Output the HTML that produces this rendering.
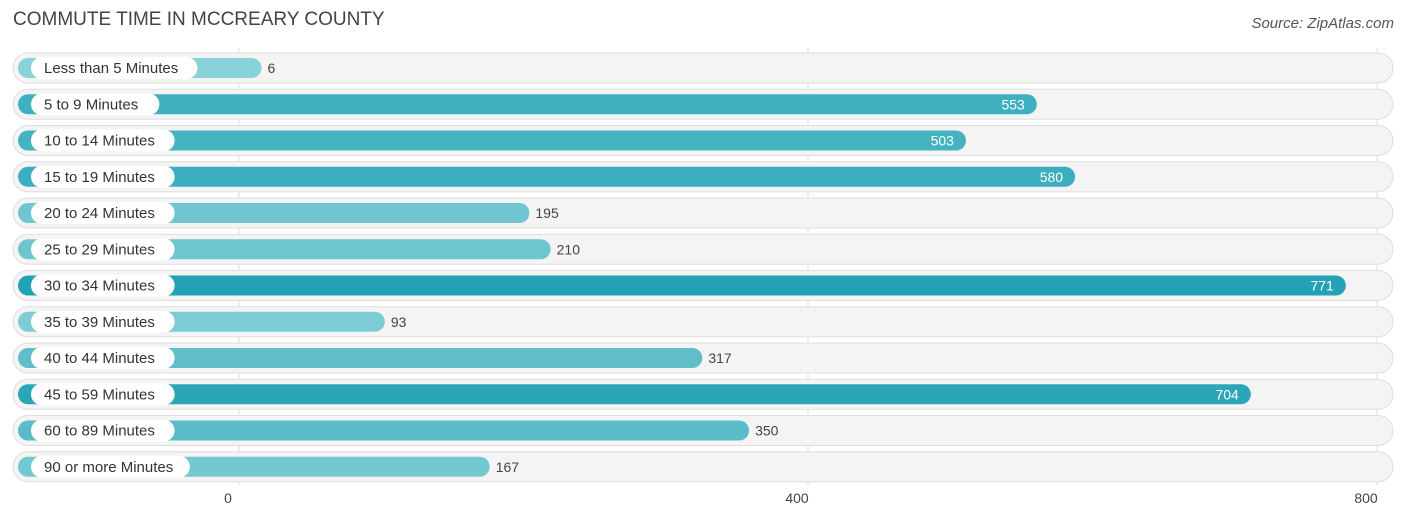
<!DOCTYPE html>
<html><head><meta charset="utf-8"><style>
body{margin:0;background:#fff;font-family:"Liberation Sans",sans-serif;}
#c{position:relative;width:1406px;height:522px;overflow:hidden}
.t{position:absolute;left:13px;top:9px;font-size:19px;color:#444}
.s{position:absolute;right:12px;top:15px;font-size:15px;color:#555;font-style:italic}
</style></head><body>
<div id="c">
<div class="t">COMMUTE TIME IN MCCREARY COUNTY</div>
<div class="s">Source: ZipAtlas.com</div>
<svg id="g" width="1406" height="522" style="position:absolute;left:0;top:0"></svg>
</div>
<script>
const categories=["Less than 5 Minutes","5 to 9 Minutes","10 to 14 Minutes","15 to 19 Minutes","20 to 24 Minutes","25 to 29 Minutes","30 to 34 Minutes","35 to 39 Minutes","40 to 44 Minutes","45 to 59 Minutes","60 to 89 Minutes","90 or more Minutes"];
const values=[6,553,503,580,195,210,771,93,317,704,350,167];
const ticks=[0,400,800];
const NS="http://www.w3.org/2000/svg",svg=document.getElementById('g');
const x=v=>253+v*1.4174, gx=v=>239+v*1.4225, rowY=i=>68+i*36.25;
function mk(t,a,p){const e=document.createElementNS(NS,t);for(const k in a)e.setAttribute(k,a[k]);(p||svg).appendChild(e);return e;}
const max=Math.max(...values);
function col(v){const f=v/max,a=[0x8a,0xd2,0xda],b=[0x22,0xa2,0xb4];return 'rgb('+a.map((c,i)=>Math.round(c+(b[i]-c)*f)).join(',')+')';}
ticks.forEach(t=>{
 const l=mk('line',{x1:gx(t),x2:gx(t),y1:48,y2:485,stroke:'#ddd','stroke-width':1});
 
 const tx=mk('text',{x:gx(t)-11,y:503,'text-anchor':'middle','font-size':14,fill:'#444'});tx.textContent=t;
 
});
categories.forEach((c,i)=>{
 const y=rowY(i),v=values[i];
 const g=mk('g',{});
 const tr=mk('rect',{x:13,y:y-15,width:1380,height:30,rx:15,fill:'#f4f4f4',stroke:'#dedede'},g);
 
 const b=mk('rect',{x:18,y:y-10,width:x(v)-18,height:20,rx:10,fill:col(v)},g);
 
 const lw=c.length*7.6+22;
 const p=mk('rect',{x:31,y:y-11,width:lw,height:22,rx:11,fill:'#fff'},g);
 
 const lt=mk('text',{x:44,y:y+5,'font-size':15,fill:'#333'},g);lt.textContent=c;
 
 const inside=v>450;
 const vt=mk('text',{x:inside?x(v)-12:x(v)+6,y:y+5,'font-size':14,fill:inside?'#fff':'#444','text-anchor':inside?'end':'start'},g);vt.textContent=v;
 
});
</script>
</body></html>
